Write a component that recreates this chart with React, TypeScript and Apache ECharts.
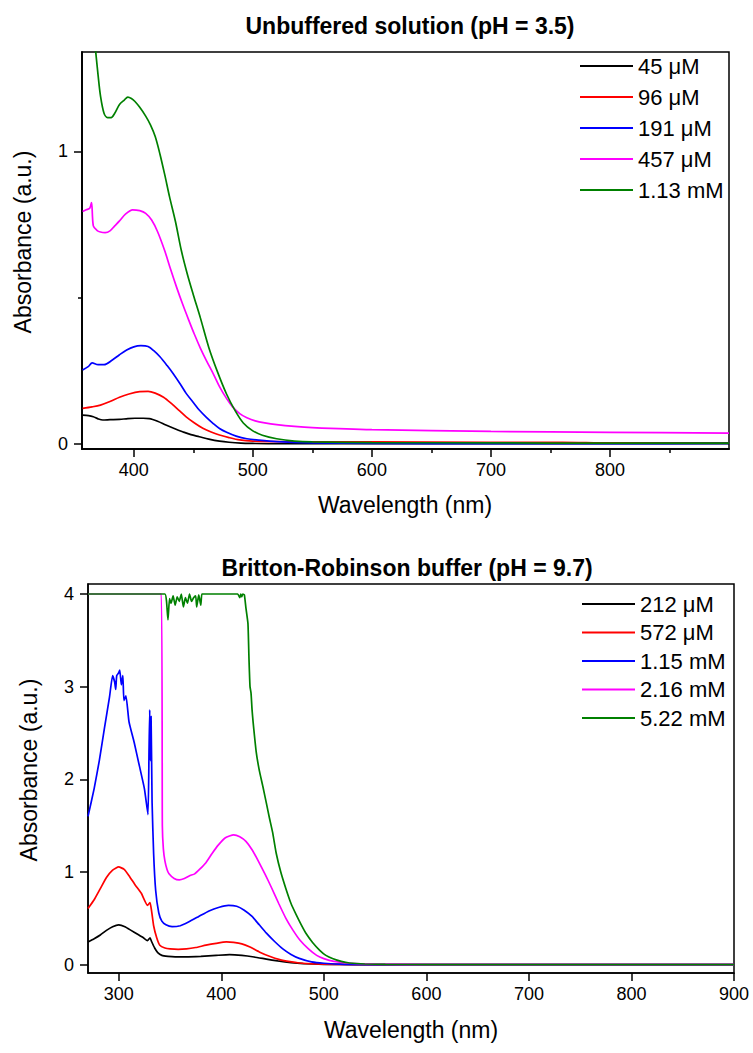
import React, { useEffect, useRef } from "react";
import * as echarts from "echarts";

// ---------- Top panel: Unbuffered solution (pH = 3.5) ----------
const topTitle = "Unbuffered solution (pH = 3.5)";
const topNames = ["45 μM", "96 μM", "191 μM", "457 μM", "1.13 mM"];
const topXLabels = [400, 500, 600, 700, 800];
const topXMinor = [450, 550, 650, 750, 850];
const topYLabels = [0, 1];
const topYMinor = [0.5];

const wl45 = [357, 362, 366, 370, 374, 380, 388, 395, 401, 408, 413, 420, 427, 434, 441, 448, 455, 463, 472, 480, 490, 500, 520, 550, 600, 700, 800, 900];
const abs45 = [0.099, 0.097, 0.093, 0.086, 0.082, 0.083, 0.084, 0.087, 0.088, 0.088, 0.087, 0.078, 0.065, 0.053, 0.042, 0.032, 0.025, 0.017, 0.01, 0.006, 0.003, 0.002, 0.001, 0.001, 0.001, 0.001, 0.001, 0.001];

const wl96 = [357, 365, 372, 380, 388, 396, 405, 412, 418, 425, 432, 438, 444, 451, 458, 465, 472, 480, 489, 500, 520, 550, 600, 700, 760, 800, 900];
const abs96 = [0.122, 0.127, 0.133, 0.145, 0.16, 0.171, 0.179, 0.18, 0.174, 0.16, 0.137, 0.115, 0.093, 0.072, 0.054, 0.041, 0.031, 0.022, 0.014, 0.01, 0.008, 0.007, 0.007, 0.006, 0.006, 0.004, 0.004];

const wl191 = [357, 362, 365, 370, 375, 382, 388, 394, 400, 406, 412, 417, 422, 428, 433, 439, 444, 450, 455, 461, 467, 472, 478, 486, 495, 505, 520, 550, 600, 700, 800, 900];
const abs191 = [0.253, 0.265, 0.277, 0.271, 0.271, 0.287, 0.305, 0.321, 0.332, 0.336, 0.333, 0.318, 0.298, 0.268, 0.241, 0.205, 0.173, 0.142, 0.116, 0.091, 0.069, 0.053, 0.04, 0.027, 0.018, 0.013, 0.008, 0.004, 0.002, 0.001, 0.001, 0.002];

const wl457 = [357, 360, 363, 364.5, 366, 369, 372, 376, 380, 384, 388, 393, 399, 405, 410, 415, 420, 426, 431, 436, 441, 446, 451, 456, 461, 467, 472, 478, 483, 489, 495, 502, 510, 520, 535, 550, 600, 700, 800, 900];
const abs457 = [0.794, 0.8, 0.805, 0.825, 0.745, 0.73, 0.724, 0.722, 0.728, 0.745, 0.762, 0.785, 0.8, 0.797, 0.788, 0.765, 0.725, 0.66, 0.596, 0.535, 0.478, 0.425, 0.374, 0.327, 0.285, 0.238, 0.196, 0.155, 0.127, 0.104, 0.09, 0.079, 0.072, 0.066, 0.06, 0.056, 0.049, 0.043, 0.04, 0.037];

const wl1130 = [357, 362, 366, 368, 370, 372, 375, 378, 381, 384, 388, 392, 395, 398, 401, 405, 410, 414, 418, 422, 426, 430, 435, 440, 445, 450, 456, 463, 470, 478, 485, 492, 500, 508, 520, 535, 550, 600, 700, 800, 900];
const abs1130 = [1.75, 1.55, 1.42, 1.34, 1.26, 1.19, 1.13, 1.115, 1.115, 1.13, 1.16, 1.175, 1.185, 1.18, 1.17, 1.15, 1.12, 1.09, 1.05, 0.99, 0.92, 0.845, 0.76, 0.66, 0.58, 0.51, 0.43, 0.33, 0.25, 0.17, 0.115, 0.072, 0.045, 0.03, 0.018, 0.01, 0.007, 0.005, 0.004, 0.003, 0.003];

// ---------- Bottom panel: Britton-Robinson buffer (pH = 9.7) ----------
const botTitle = "Britton-Robinson buffer (pH = 9.7)";
const botNames = ["212 μM", "572 μM", "1.15 mM", "2.16 mM", "5.22 mM"];
const botXLabels = [300, 400, 500, 600, 700, 800, 900];
const botYLabels = [0, 1, 2, 3, 4];

const wl212 = [270, 276, 282, 288, 294, 300, 306, 312, 318, 324, 328, 330.5, 332, 335, 338, 342, 348, 355, 365, 380, 395, 408, 420, 432, 444, 455, 468, 480, 500, 530, 600, 900];
const abs212 = [0.245, 0.28, 0.32, 0.37, 0.41, 0.43, 0.41, 0.37, 0.33, 0.29, 0.26, 0.29, 0.25, 0.18, 0.13, 0.1, 0.09, 0.085, 0.085, 0.09, 0.1, 0.108, 0.1, 0.083, 0.06, 0.04, 0.022, 0.012, 0.004, 0.001, 0, 0];

const wl572 = [270, 276, 282, 288, 294, 300, 305, 310, 316, 322, 328, 330.5, 332, 334, 337, 340, 345, 350, 358, 366, 375, 385, 395, 405, 412, 420, 428, 437, 447, 457, 467, 476, 490, 510, 600, 900];
const abs572 = [0.605, 0.7, 0.82, 0.94, 1.02, 1.055, 1.03, 0.96, 0.86, 0.77, 0.64, 0.67, 0.58, 0.42, 0.29, 0.21, 0.18, 0.17, 0.165, 0.17, 0.185, 0.21, 0.23, 0.245, 0.24, 0.225, 0.19, 0.137, 0.09, 0.054, 0.032, 0.018, 0.008, 0.002, 0, 0];

const wl1150 = [270, 276, 281, 286, 291, 294, 296, 297, 298, 300, 301, 302.5, 304, 305, 307, 310, 315, 320, 325, 328.5, 329.5, 330.2, 330.8, 331.5, 332.5, 334, 336, 339, 342, 346, 352, 360, 368, 378, 388, 398, 407, 415, 422, 430, 437, 444, 452, 460, 468, 476, 488, 500, 520, 560, 900];
const abs1150 = [1.6, 1.9, 2.2, 2.55, 2.89, 3.12, 3.05, 2.97, 3.12, 3.15, 3.18, 3.02, 3.12, 2.85, 2.9, 2.62, 2.4, 2.15, 1.9, 1.62, 2.3, 2.75, 2.2, 2.68, 1.75, 1.2, 0.8, 0.56, 0.47, 0.43, 0.41, 0.42, 0.46, 0.52, 0.58, 0.62, 0.64, 0.63, 0.59, 0.52, 0.43, 0.34, 0.25, 0.17, 0.11, 0.068, 0.03, 0.015, 0.004, 0, 0];

const wl2160 = [270, 300, 341.5, 342.5, 343.5, 345, 347, 349, 354, 359, 364, 369, 374, 379, 385, 391, 397, 404, 412, 418, 424, 430, 436, 443, 449, 456, 463, 470, 477, 485, 493, 500, 510, 525, 550, 600, 900];
const abs2160 = [4, 4, 4, 1.5, 1.25, 1.12, 1.03, 0.98, 0.93, 0.915, 0.93, 0.96, 0.98, 1.03, 1.1, 1.2, 1.29, 1.37, 1.4, 1.38, 1.33, 1.24, 1.12, 0.97, 0.83, 0.66, 0.5, 0.37, 0.26, 0.17, 0.1, 0.065, 0.035, 0.015, 0.005, 0.001, 0];

const wl5220 = [270, 345, 346.5, 348, 349.5, 351, 353, 355, 357, 359, 361, 363, 365, 367, 369, 371, 373, 375, 376, 378, 380, 381, 383, 416, 418, 419, 420, 421, 422.5, 424, 426, 427, 428, 429, 430, 431, 434, 437, 440.6, 444, 447, 450, 453.6, 458, 463, 468, 473, 478, 483, 489, 496, 502, 509, 517, 525, 540, 560, 600, 900];
const abs5220 = [4, 4, 3.93, 3.72, 3.95, 3.9, 3.98, 3.88, 3.97, 3.92, 4, 3.86, 3.96, 3.9, 4, 3.92, 3.96, 3.98, 3.86, 3.99, 3.88, 4, 4, 4, 3.96, 4, 3.97, 4, 3.99, 3.85, 3.68, 3.3, 3.0, 2.93, 2.75, 2.62, 2.3, 2.1, 1.92, 1.74, 1.58, 1.43, 1.2, 1.0, 0.82, 0.66, 0.54, 0.43, 0.33, 0.24, 0.155, 0.1, 0.063, 0.035, 0.018, 0.007, 0.003, 0.001, 0];

const colors = ["#000000", "#ff0000", "#0000ff", "#ff00ff", "#008000"];
const FONT = '"Liberation Sans", Arial, sans-serif';

const pairs = (xs: number[], ys: number[]) => xs.map((x, i) => [x, ys[i]]);

export default function App() {
  const ref = useRef<HTMLDivElement>(null);
  useEffect(() => {
    if (!ref.current) return;
    const chart = echarts.init(ref.current, undefined, { renderer: "svg" });

    const topData = [pairs(wl45, abs45), pairs(wl96, abs96), pairs(wl191, abs191), pairs(wl457, abs457), pairs(wl1130, abs1130)];
    const botData = [pairs(wl212, abs212), pairs(wl572, abs572), pairs(wl1150, abs1150), pairs(wl2160, abs2160), pairs(wl5220, abs5220)];

    const axisLine = { show: true, onZero: false, lineStyle: { color: "#000", width: 1.5 } };
    const label = { color: "#000", fontSize: 18, fontFamily: FONT, inside: false };

    const mkSeries = (names: string[], data: number[][][], xi: number, yi: number, smooth: number) =>
      names.map((n, i) => ({
        name: n,
        type: "line",
        xAxisIndex: xi,
        yAxisIndex: yi,
        data: data[i],
        showSymbol: false,
        symbol: "none",
        smooth,
        color: colors[i],
        lineStyle: { color: colors[i], width: 1.7 },
        clip: true,
      }));

    const text = (t: string, x: number, y: number, size: number, bold = false, rot = 0) => ({
      type: "text",
      x,
      y,
      rotation: rot,
      style: {
        text: t,
        fontSize: size,
        fontWeight: bold ? "bold" : "normal",
        fontFamily: FONT,
        fill: "#000",
        align: "center",
        verticalAlign: "middle",
      },
    });

    const tick = (len: number, vals: number[]) => ({
      show: true, inside: false, length: len, customValues: vals, lineStyle: { color: "#000", width: 1.5 },
    });

    chart.setOption({
      animation: false,
      backgroundColor: "#fff",
      grid: [
        { left: 82, top: 52, width: 647, height: 397, show: true, borderColor: "#000", borderWidth: 1.5, containLabel: false, outerBoundsMode: "none" },
        { left: 88, top: 584, width: 646, height: 389, show: true, borderColor: "#000", borderWidth: 1.5, containLabel: false, outerBoundsMode: "none" },
      ],
      xAxis: [
        {
          gridIndex: 0, type: "value", position: "bottom", min: 356.5, max: 900,
          axisLine, splitLine: { show: false },
          axisTick: tick(8, topXLabels),
          axisLabel: { ...label, margin: 12, customValues: topXLabels },
        },
        {
          gridIndex: 0, type: "value", position: "bottom", offset: 0, min: 356.5, max: 900,
          axisLine, splitLine: { show: false },
          axisTick: tick(4, topXMinor),
          axisLabel: { show: false },
        },
        {
          gridIndex: 1, type: "value", position: "bottom", offset: 0, min: 270, max: 900,
          axisLine, splitLine: { show: false },
          axisTick: tick(8, botXLabels),
          axisLabel: { ...label, margin: 12, customValues: botXLabels },
        },
      ],
      yAxis: [
        {
          gridIndex: 0, type: "value", position: "left", offset: 0, min: -0.017, max: 1.339,
          axisLine, splitLine: { show: false },
          axisTick: tick(8, topYLabels),
          axisLabel: { ...label, margin: 14, customValues: topYLabels },
        },
        {
          gridIndex: 0, type: "value", position: "left", offset: 0, min: -0.017, max: 1.339,
          axisLine, splitLine: { show: false },
          axisTick: tick(4, topYMinor),
          axisLabel: { show: false },
        },
        {
          gridIndex: 1, type: "value", position: "left", offset: 0, min: -0.09, max: 4.108,
          axisLine, splitLine: { show: false },
          axisTick: tick(8, botYLabels),
          axisLabel: { ...label, margin: 14, customValues: botYLabels },
        },
      ],
      legend: [
        {
          data: topNames, orient: "vertical", left: 580, top: 55, padding: 0,
          icon: "rect", itemWidth: 53, itemHeight: 2, itemGap: 9,
          textStyle: { color: "#000", fontSize: 22, fontFamily: FONT, lineHeight: 22 },
          selectedMode: false,
        },
        {
          data: botNames, orient: "vertical", left: 582, top: 593, padding: 0,
          icon: "rect", itemWidth: 53, itemHeight: 2, itemGap: 6.5,
          textStyle: { color: "#000", fontSize: 22, fontFamily: FONT, lineHeight: 22 },
          selectedMode: false,
        },
      ],
      series: [
        ...mkSeries(topNames, topData, 0, 0, 0.3),
        ...mkSeries(botNames, botData, 2, 2, 0.15),
      ],
      graphic: [
        text(topTitle, 410, 26, 23, true),
        text(botTitle, 407, 568, 23, true),
        text("Wavelength (nm)", 405, 505, 23),
        text("Wavelength (nm)", 411, 1030, 23),
        text("Absorbance (a.u.)", 23, 242, 23, false, Math.PI / 2),
        text("Absorbance (a.u.)", 29, 770, 23, false, Math.PI / 2),
      ],
    });
    return () => chart.dispose();
  }, []);
  return <div ref={ref} style={{ position: "absolute", left: 0, top: 0, width: 753, height: 1053 }} />;
}
